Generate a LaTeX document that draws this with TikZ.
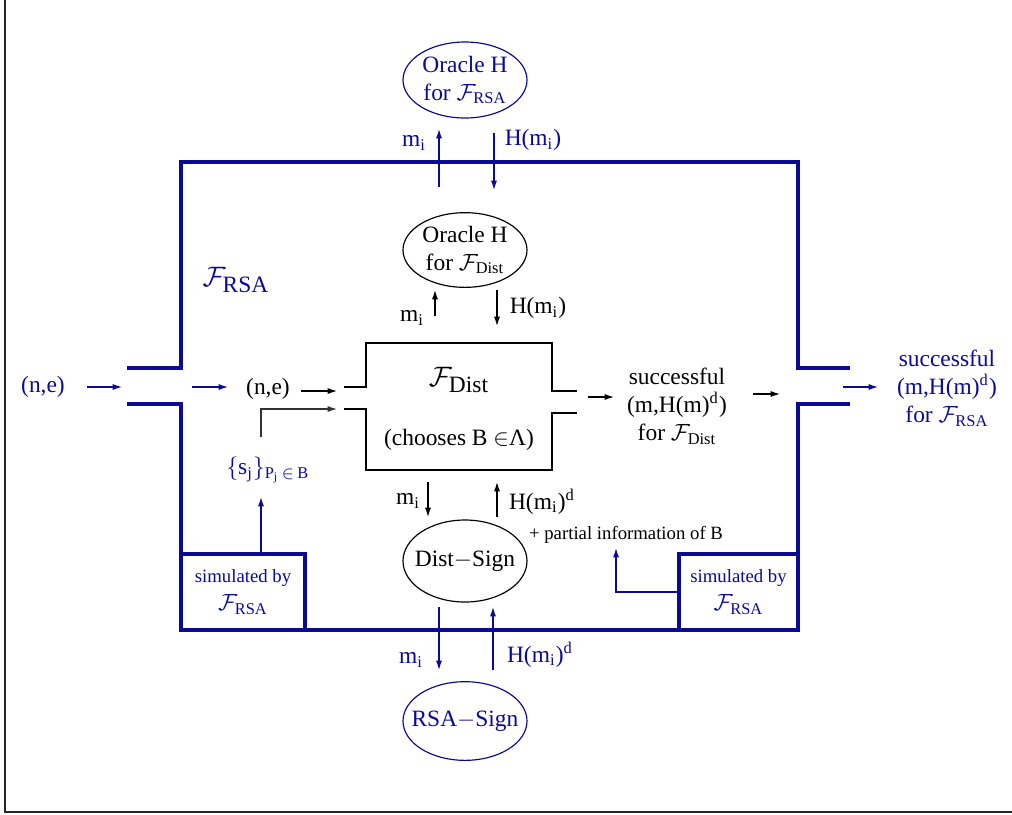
\documentclass[tikz,border=0pt]{standalone}
\usepackage{amsmath}
\usepackage{fontspec}
\setmainfont{Liberation Serif}
\usetikzlibrary{arrows.meta}
\definecolor{rsablue}{HTML}{0A0A96}

\begin{document}
\begin{tikzpicture}[x=0.015cm,y=-0.015cm,
    arr/.style={-{Latex[length=4pt,width=2.6pt]},line width=0.5pt},
    wall/.style={draw=rsablue,line width=1.3pt},
    dwall/.style={draw=black,line width=1.1pt},
    oval/.style={line width=0.5pt},
    lbl/.style={inner sep=1pt,align=center},
    blu/.style={text=rsablue},
    simbox/.style={lbl,blu,draw=rsablue,line width=1.3pt,minimum height=1.14cm}]
  \useasboundingbox (0,0) rectangle (1012,814);
  % page frame
  \draw[line width=0.8pt,black!85] (5,0) -- (5,812) -- (1012,812);

  % F_RSA enclosure
  \draw[wall] (127,368) -- (181,368) -- (181,162) -- (798,162) -- (798,368) -- (850,368);
  \draw[wall] (127,404) -- (181,404) -- (181,630) -- (798,630) -- (798,404) -- (850,404);
  \node[lbl,blu,font=\large] (frsa) at (236,280) {$\mathcal{F}_{\text{\normalsize RSA}}$};
  \node[simbox,minimum width=1.86cm] (simL) at (243,592)
    {{\footnotesize simulated by}\\$\mathcal{F}_{\text{RSA}}$};
  \node[simbox,minimum width=1.785cm] (simR) at (738.5,592)
    {{\footnotesize simulated by}\\$\mathcal{F}_{\text{RSA}}$};

  % F_Dist box
  \draw[dwall] (344,387) -- (366,387) -- (366,343) -- (552,343) -- (552,391) -- (577,391);
  \draw[dwall] (344,409) -- (366,409) -- (366,470) -- (552,470) -- (552,413) -- (577,413);
  \node[lbl,font=\large] (fdist) at (459,380) {$\mathcal{F}_{\text{\normalsize Dist}}$};
  \node[lbl] (choose) at (459,440) {(chooses B $\in$Λ)};

  % oracles and signers
  \node[lbl,blu] (orsa) at (465,80) {Oracle H\\for $\mathcal{F}_{\text{RSA}}$};
  \draw[oval,rsablue] (orsa.center) ellipse [x radius=0.93cm,y radius=0.57cm];
  \node[lbl] (odist) at (465,250) {Oracle H\\for $\mathcal{F}_{\text{Dist}}$};
  \draw[oval] (odist.center) ellipse [x radius=0.93cm,y radius=0.56cm];
  \node[lbl] (dsign) at (465,561) {Dist$-$Sign};
  \draw[oval] (dsign.center) ellipse [x radius=0.93cm,y radius=0.615cm];
  \node[lbl,blu] (rsign) at (465,721) {RSA$-$Sign};
  \draw[oval,rsablue] (rsign.center) ellipse [x radius=0.93cm,y radius=0.59cm];

  % vertical messages: name/x/from/to/colour
  \foreach \n/\x/\ya/\yb/\c in {
      ta/439/187/129/rsablue, tb/494/133/190/rsablue,
      ma/435/316/290/black,   mb/497/290/326/black,
      da/428/482/517/black,   db/497/517/482/black,
      ba/439/607/670/rsablue, bb/493/670/607/rsablue}{
    \coordinate (\n0) at (\x,\ya);
    \coordinate (\n1) at (\x,\yb);
    \draw[arr,\c] (\n0) -- (\n1);
  }
  \node[lbl,blu] (lta) at (414,143) {m$_\text{i}$};
  \node[lbl,blu] (ltb) at (533,140) {H(m$_\text{i}$)};
  \node[lbl] (lma) at (412,318) {m$_\text{i}$};
  \node[lbl] (lmb) at (538,308) {H(m$_\text{i}$)};
  \node[lbl] (lda) at (408,501) {m$_\text{i}$};
  \node[lbl] (ldb) at (542,502) {H(m$_\text{i}$)$^\text{d}$};
  \node[lbl,font=\footnotesize] (pinfo) at (626,535) {+ partial information of B};
  \node[lbl,blu] (lba) at (411,660) {m$_\text{i}$};
  \node[lbl,blu] (lbb) at (540,655) {H(m$_\text{i}$)$^\text{d}$};

  % horizontal flow: name/from/to/y/colour
  \foreach \n/\xa/\xb/\y/\c in {
      ia/87/122/387/rsablue,  ib/192/228/387/rsablue, ic/301/337/391/black,
      oa/588/614/397/black,   ob/753/780/394/black,   oc/843/878/387/rsablue}{
    \coordinate (\n0) at (\xa,\y);
    \coordinate (\n1) at (\xb,\y);
    \draw[arr,\c] (\n0) -- (\n1);
  }
  \node[lbl,blu] (nein) at (43,387) {(n,e)};
  \node[lbl] (nedist) at (268,389) {(n,e)};
  \node[lbl,blu] (shares) at (268,470)
    {$\{\text{s}_\text{j}\}_{\text{P}_\text{j}\,\in\,\text{B}}$};
  \node[lbl] (okdist) at (677,406)
    {successful\\(m,H(m)$^\text{d}$)\\for $\mathcal{F}_{\text{Dist}}$};
  \node[lbl,blu] (okrsa) at (947,388)
    {successful\\(m,H(m)$^\text{d}$)\\for $\mathcal{F}_{\text{RSA}}$};

  % simulated inputs
  \coordinate (sj0) at (261,437);
  \draw[arr,black!80] (sj0) |- (ic1 |- 0,409);
  \coordinate (sjb) at (261,497);
  \draw[arr,rsablue] (simL.north -| sjb) -- (sjb);
  \coordinate (pib) at (616,548);
  \draw[arr,rsablue] (simR.west) -| (pib);
\end{tikzpicture}
\end{document}
